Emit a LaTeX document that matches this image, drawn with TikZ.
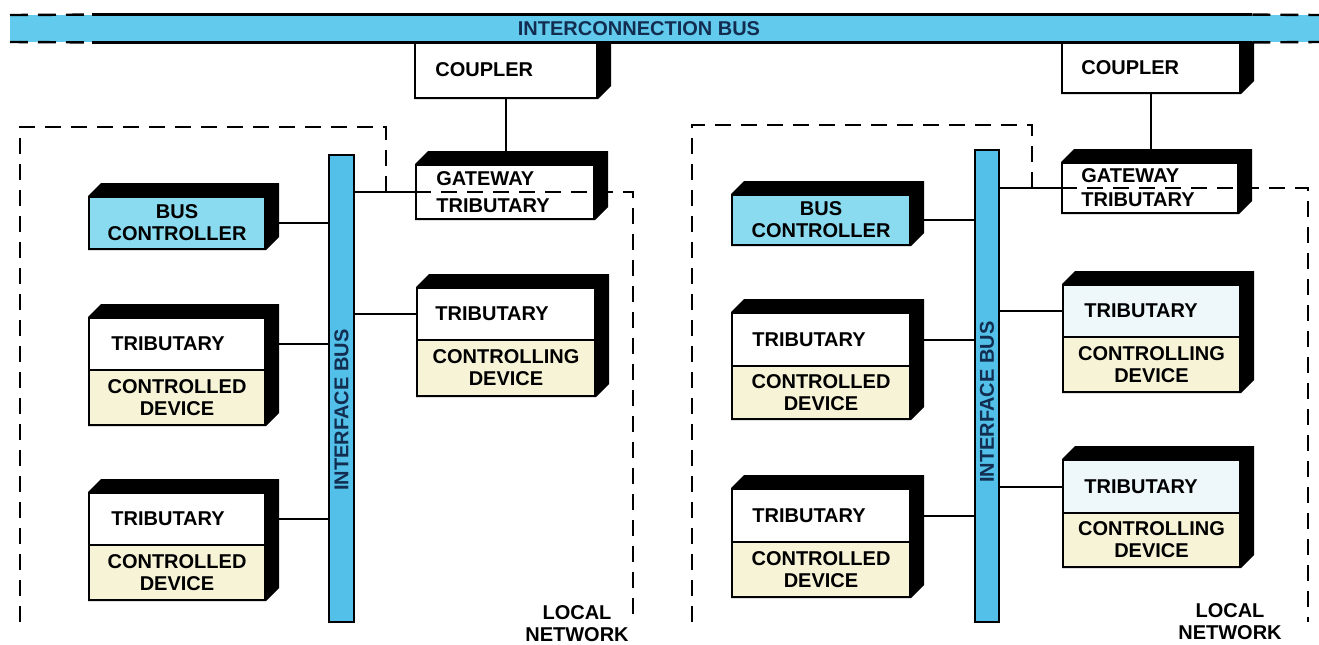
\documentclass[tikz,border=0pt]{standalone}
\usepackage{fontspec}
\setmainfont{Liberation Sans}
\usetikzlibrary{calc,fit}
\definecolor{ibus}{RGB}{98,202,236}
\definecolor{ifbus}{RGB}{82,192,232}
\definecolor{bcfill}{RGB}{138,218,240}
\definecolor{devfill}{RGB}{246,243,214}
\definecolor{tintfill}{RGB}{238,248,251}
\definecolor{bustext}{RGB}{18,45,80}
\pgfdeclarelayer{bg}
\pgfsetlayers{bg,main}
\tikzset{
  face/.style={draw=black, line width=1pt, inner sep=0pt},
  lbl/.style={font=\bfseries\fontsize{10}{11}\selectfont, inner sep=0pt, text=black},
  conn/.style={draw=black, line width=1pt},
  bnd/.style={draw=black, line width=1.1pt, dash pattern=on 8pt off 5pt},
  busline/.style={draw=black, line width=1.2pt},
  busdash/.style={draw=black, line width=1.2pt, dash pattern=on 9pt off 5pt},
}
\newcommand\boxdepth[2]{%
  \begin{pgfonlayer}{bg}
  \fill[black] (#1.north west |- #2.south west) -- (#1.north west) -- ++(13,-13)
     -- ($(#1.north east)+(13,-13)$) -- ($(#2.south east)+(13,-13)$) -- (#2.south east) -- cycle;
  \end{pgfonlayer}}
\begin{document}
\begin{tikzpicture}[x=0.5pt,y=-0.5pt]
\begin{pgfonlayer}{bg}
\fill[white] (0,0) rectangle (1319,644);
\end{pgfonlayer}
\useasboundingbox (0,0) rectangle (1319,644);

% ================= LEFT HALF =================
\node[face, fill=white, fit={(415,42) (597,98)}] (cpL) {};
\node[lbl, anchor=west] (cpLt) at ([xshift=10.5pt]cpL.west) {COUPLER};
\boxdepth{cpL}{cpL}

\node[face, fill=white, fit={(416,165) (594,219)}] (gwL) {};
\node[lbl, anchor=west, align=left] (gwLt) at ([xshift=10.5pt]gwL.west) {GATEWAY\\[2.5pt]TRIBUTARY};
\boxdepth{gwL}{gwL}

\node[face, fill=bcfill, fit={(89,197) (265,249)}] (bcL) {};
\node[lbl, align=center] (bcLt) at (bcL.center) {BUS\\CONTROLLER};
\boxdepth{bcL}{bcL}

\node[face, fill=white, fit={(89,318) (265,370)}] (l1t) {};
\node[face, fill=devfill, fit={(89,370) (265,425)}] (l1b) {};
\node[lbl, anchor=west] (l1tt) at ([xshift=11.5pt]l1t.west) {TRIBUTARY};
\node[lbl, align=center] (l1bt) at (l1b.center) {CONTROLLED\\DEVICE};
\boxdepth{l1t}{l1b}

\node[face, fill=white, fit={(89,493) (265,545)}] (l2t) {};
\node[face, fill=devfill, fit={(89,545) (265,600)}] (l2b) {};
\node[lbl, anchor=west] (l2tt) at ([xshift=11.5pt]l2t.west) {TRIBUTARY};
\node[lbl, align=center] (l2bt) at (l2b.center) {CONTROLLED\\DEVICE};
\boxdepth{l2t}{l2b}

\node[face, fill=white, fit={(417,288) (595,340)}] (r1t) {};
\node[face, fill=devfill, fit={(417,340) (595,396)}] (r1b) {};
\node[lbl, anchor=west] (r1tt) at ([xshift=9.5pt]r1t.west) {TRIBUTARY};
\node[lbl, align=center] (r1bt) at (r1b.center) {CONTROLLING\\DEVICE};
\boxdepth{r1t}{r1b}

\node[draw=black, line width=0.8pt, fill=ifbus, inner sep=0pt, fit={(329,155) (354,622)}] (ifL) {};
\node[lbl, rotate=90, text=bustext] (ifLt) at (341.5,410) {INTERFACE BUS};

\draw[conn] (cpL.south) -- (cpL.south |- gwL.north);
\draw[conn] (bcL.east) -- (bcL.east -| ifL.west);
\draw[conn] (l1t.east) -- (l1t.east -| ifL.west);
\draw[conn] (l2t.east) -- (l2t.east -| ifL.west);
\draw[conn] (ifL.east |- gwL.west) -- (gwL.west);
\draw[conn] (ifL.east |- r1t.west) -- (r1t.west);

\draw[bnd] (386,192) -- (386,127) -- (20,127) -- (20,622);
\draw[bnd] (gwL.west) -- (633,192) -- (633,622);
\node[lbl, align=center] (lnL) at (577,624) {LOCAL\\NETWORK};

% ================= RIGHT HALF =================
\node[face, fill=white, fit={(1062,42) (1240,93)}] (cpR) {};
\node[lbl, anchor=west] (cpRt) at ([xshift=10pt]cpR.west) {COUPLER};
\boxdepth{cpR}{cpR}

\node[face, fill=white, fit={(1062,163) (1238,213)}] (gwR) {};
\node[lbl, anchor=west, align=left] (gwRt) at ([xshift=10pt]gwR.west) {GATEWAY\\[1pt]TRIBUTARY};
\boxdepth{gwR}{gwR}

\node[face, fill=bcfill, fit={(732,195) (910,245)}] (bcR) {};
\node[lbl, align=center] (bcRt) at (bcR.center) {BUS\\CONTROLLER};
\boxdepth{bcR}{bcR}

\node[face, fill=white, fit={(732,313) (910,366)}] (m1t) {};
\node[face, fill=devfill, fit={(732,366) (910,419)}] (m1b) {};
\node[lbl, anchor=west] (m1tt) at ([xshift=10.5pt]m1t.west) {TRIBUTARY};
\node[lbl, align=center] (m1bt) at (m1b.center) {CONTROLLED\\DEVICE};
\boxdepth{m1t}{m1b}

\node[face, fill=white, fit={(732,489) (910,542)}] (m2t) {};
\node[face, fill=devfill, fit={(732,542) (910,597)}] (m2b) {};
\node[lbl, anchor=west] (m2tt) at ([xshift=10.5pt]m2t.west) {TRIBUTARY};
\node[lbl, align=center] (m2bt) at (m2b.center) {CONTROLLED\\DEVICE};
\boxdepth{m2t}{m2b}

\node[face, fill=tintfill, fit={(1063,285) (1240,337)}] (n1t) {};
\node[face, fill=devfill, fit={(1063,337) (1240,392)}] (n1b) {};
\node[lbl, anchor=west] (n1tt) at ([xshift=11pt]n1t.west) {TRIBUTARY};
\node[lbl, align=center] (n1bt) at (n1b.center) {CONTROLLING\\DEVICE};
\boxdepth{n1t}{n1b}

\node[face, fill=tintfill, fit={(1063,460) (1240,513)}] (n2t) {};
\node[face, fill=devfill, fit={(1063,513) (1240,567)}] (n2b) {};
\node[lbl, anchor=west] (n2tt) at ([xshift=11pt]n2t.west) {TRIBUTARY};
\node[lbl, align=center] (n2bt) at (n2b.center) {CONTROLLING\\DEVICE};
\boxdepth{n2t}{n2b}

\node[draw=black, line width=0.8pt, fill=ifbus, inner sep=0pt, fit={(975,150) (999,622)}] (ifR) {};
\node[lbl, rotate=90, text=bustext] (ifRt) at (987,402) {INTERFACE BUS};

\draw[conn] (cpR.south) -- (cpR.south |- gwR.north);
\draw[conn] (bcR.east) -- (bcR.east -| ifR.west);
\draw[conn] (m1t.east) -- (m1t.east -| ifR.west);
\draw[conn] (m2t.east) -- (m2t.east -| ifR.west);
\draw[conn] (ifR.east |- gwR.west) -- (gwR.west);
\draw[conn] (ifR.east |- n1t.west) -- (n1t.west);
\draw[conn] (ifR.east |- n2t.west) -- (n2t.west);

\draw[bnd] (1032,188) -- (1032,125) -- (692,125) -- (692,622);
\draw[bnd] (gwR.west) -- (1308,188) -- (1308,622);
\node[lbl, align=center] (lnR) at (1230,622) {LOCAL\\NETWORK};

% ================= INTERCONNECTION BUS =================
\fill[ibus] (10,15) rectangle (1319,42);
\node[inner sep=0pt, fit={(92,15) (1252,42)}] (icb) {};
\draw[busline] (icb.north west) -- (icb.north east);
\draw[busline] (icb.south west) -- (icb.south east);
\draw[busdash] (10,15) -- (icb.north west);
\draw[busdash] (10,42) -- (icb.south west);
\draw[busdash] (icb.north east) -- (1319,15);
\draw[busdash] (icb.south east) -- (1319,42);
\node[lbl, text=bustext] (icbt) at (639,29) {INTERCONNECTION BUS};
\end{tikzpicture}
\end{document}
